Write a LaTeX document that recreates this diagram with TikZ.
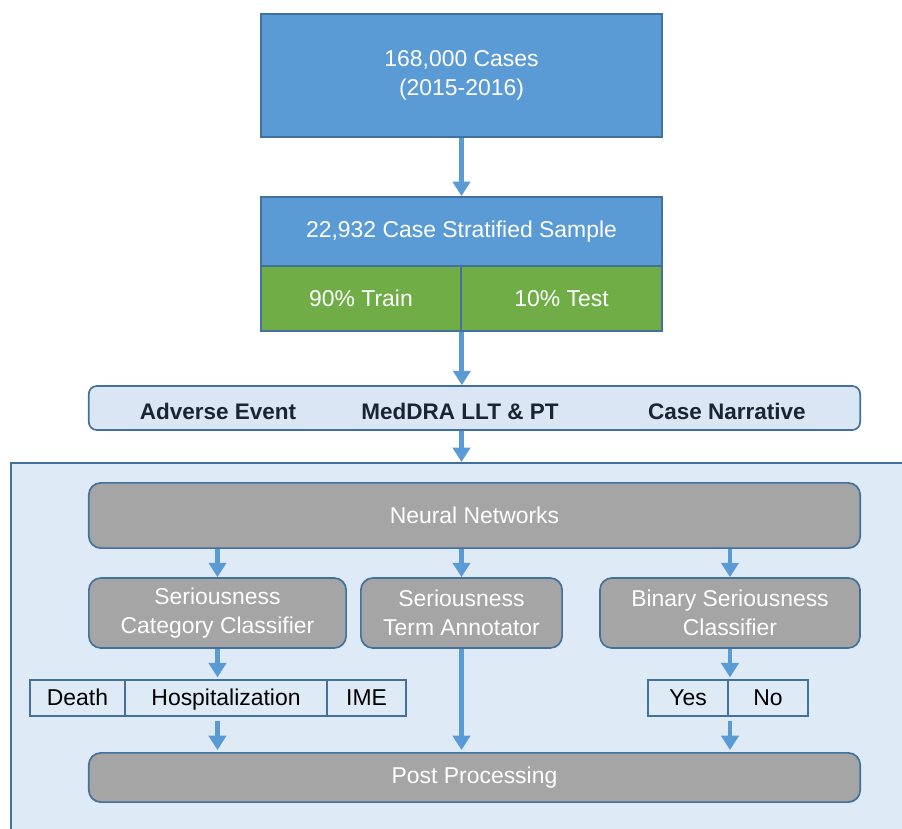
\documentclass[tikz,border=0pt]{standalone}
\usepackage{fontspec}
\setmainfont{Liberation Sans}
\usetikzlibrary{arrows.meta, positioning}

\definecolor{boxblue}{HTML}{5B9BD5}
\definecolor{edgeblue}{HTML}{41719C}
\definecolor{boxgreen}{HTML}{70AD47}
\definecolor{boxgray}{HTML}{A5A5A5}
\definecolor{panelfill}{HTML}{DEEAF6}
\definecolor{inputfill}{HTML}{DAE6F4}
\definecolor{darktext}{HTML}{1B2433}

\tikzset{
  txt/.style={font=\fontsize{16.3}{20.6}\selectfont, align=center},
  datablock/.style={txt, draw=edgeblue, line width=1.2pt, text=white, inner sep=0pt},
  splitblock/.style={datablock, fill=boxgreen},
  modelbox/.style={txt, draw=edgeblue, line width=1.2pt, fill=boxgray, text=white,
    rounded corners=0.3cm, inner sep=0pt},
  outcell/.style={txt, draw=edgeblue, line width=0.9pt, text=black, inner sep=0pt,
    text height=13pt, text depth=2.2pt, minimum height=0.9cm},
  field/.style={font=\bfseries\fontsize{16}{20}\selectfont, text=darktext},
  flow/.style={draw=boxblue, line width=3.4pt,
    -{Triangle[width=0.43cm, length=0.36cm]}}
}

\begin{document}
\begin{tikzpicture}[x=0.025cm, y=-0.025cm]
   \useasboundingbox (0,0) rectangle (902,829);

   % Data
   \node[datablock, fill=boxblue, minimum width=10.03cm, minimum height=3.08cm]
     (cases) at (461.5,75.5) {168,000 Cases\\(2015-2016)};
   \node[datablock, fill=boxblue, minimum width=10.03cm, minimum height=1.73cm]
     (sample) at (461.5,231.5) {22,932 Case Stratified Sample};
   \node[splitblock, minimum width=5cm, minimum height=1.63cm]
     (train) at (361,298.5) {90\% Train};
   \node[splitblock, minimum width=5.03cm, minimum height=1.63cm]
     (test) at (561.5,298.5) {10\% Test};

   % Input fields
   \node[draw=edgeblue, line width=1.2pt, fill=inputfill, rounded corners=0.2cm,
     minimum width=19.28cm, minimum height=1.1cm] (input) at (474.5,408) {};
   \node[field] (adverse) at (218,411) {Adverse Event};
   \node[field] (meddra) at (460,411) {MedDRA LLT \& PT};
   \node[field] (narrative) at (727,411) {Case Narrative};

   % Model panel
   \node[draw=edgeblue, line width=1.2pt, fill=panelfill, minimum width=22.5cm,
     minimum height=9.45cm, anchor=north west] (panel) at (10,462) {};

   \node[modelbox, minimum width=19.28cm, minimum height=1.63cm]
     (neural) at (474.5,515.5) {Neural Networks};
   \node[modelbox, minimum width=6.43cm, minimum height=1.75cm]
     (category) at (217.5,613) {Seriousness\\Category Classifier};
   \node[modelbox, minimum width=5.03cm, minimum height=1.75cm]
     (annotator) at (461.5,613) {Seriousness\\Term Annotator};
   \node[modelbox, minimum width=6.5cm, minimum height=1.75cm]
     (binary) at (730,613) {Binary Seriousness\\Classifier};

   % Outputs
   \node[outcell, minimum width=2.38cm] (death) at (77.5,698) {Death};
   \node[outcell, minimum width=5.05cm] (hosp) at (226,698) {Hospitalization};
   \node[outcell, minimum width=1.98cm] (ime) at (366.5,698) {IME};
   \node[outcell, minimum width=2cm] (yes) at (688,698) {Yes};
   \node[outcell, minimum width=2cm] (no) at (768,698) {No};

   \node[modelbox, minimum width=19.28cm, minimum height=1.23cm]
     (post) at (474.5,777.5) {Post Processing};

   % Flow
   \draw[flow] (cases) -- (sample);
   \draw[flow] (train.south east) -- (train.south east |- input.north);
   \draw[flow] (sample.south |- input.south) -- (sample.south |- panel.north);
   \draw[flow] (category.north |- neural.south) -- (category.north);
   \draw[flow] (annotator.north |- neural.south) -- (annotator.north);
   \draw[flow] (binary.north |- neural.south) -- (binary.north);
   \draw[flow] (category.south) -- ([yshift=0.05cm]category.south |- hosp.north);
   \draw[flow] (binary.south) -- ([yshift=0.05cm]binary.south |- yes.north);
   \draw[flow] ([yshift=-0.1cm]category.south |- hosp.south) -- ([yshift=0.05cm]category.south |- post.north);
   \draw[flow] ([yshift=-0.1cm]binary.south |- yes.south) -- ([yshift=0.05cm]binary.south |- post.north);
   \draw[flow] (annotator.south) -- ([yshift=0.05cm]annotator.south |- post.north);
\end{tikzpicture}
\end{document}
